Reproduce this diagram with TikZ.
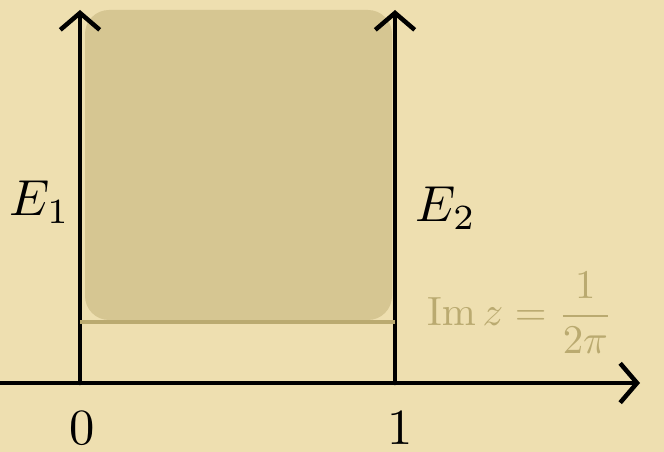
\documentclass[tikz,border=0pt]{standalone}
\usetikzlibrary{arrows.meta, positioning}
\usepackage{amsmath}
\usepackage{xcolor}
\definecolor{parchment}{RGB}{238,223,176}
\definecolor{boxfill}{RGB}{214,198,146}
\definecolor{olivelabel}{RGB}{186,170,112}
\tikzset{
  axis/.style={line width=3.2pt, line cap=round, -{Straight Barb[length=12pt,width=28pt,line width=3.2pt]}},
  label/.style={scale=3.6},
}
\begin{document}
\begin{tikzpicture}[x=0.025cm,y=-0.025cm]
  \useasboundingbox (0,0) rectangle (664,452);
  \fill[parchment] (0,0) rectangle (664,452);
  \fill[boxfill, rounded corners=0.6cm] (85,10) rectangle (392,320);
  % axes
  \coordinate (left) at (0,383);
  \coordinate (right) at (640,383);
  \coordinate (zero) at (80,383);
  \coordinate (one) at (395,383);
  \coordinate (zerotop) at (80,10);
  \coordinate (onetop) at (395,10);
  \draw[axis] (left) -- (right);
  \draw[axis] (zero) -- (zerotop);
  \draw[axis] (one) -- (onetop);
  % line Im z = 1/(2 pi)
  \coordinate (imleft) at (80,322);
  \coordinate (imright) at (395,322);
  \draw[olivelabel, line width=3.2pt] (imleft) -- (imright);
  \node[label] (E1) at (40,202) {$E_1$};
  \node[label] (E2) at (446,208) {$E_2$};
  \node[label] (zerolabel) at (82,428) {$0$};
  \node[label] (onelabel) at (400,428) {$1$};
  \node[olivelabel, scale=2.9] (imz) at (520,313) {$\operatorname{Im} z=\dfrac{1}{2\pi}$};
\end{tikzpicture}
\end{document}
